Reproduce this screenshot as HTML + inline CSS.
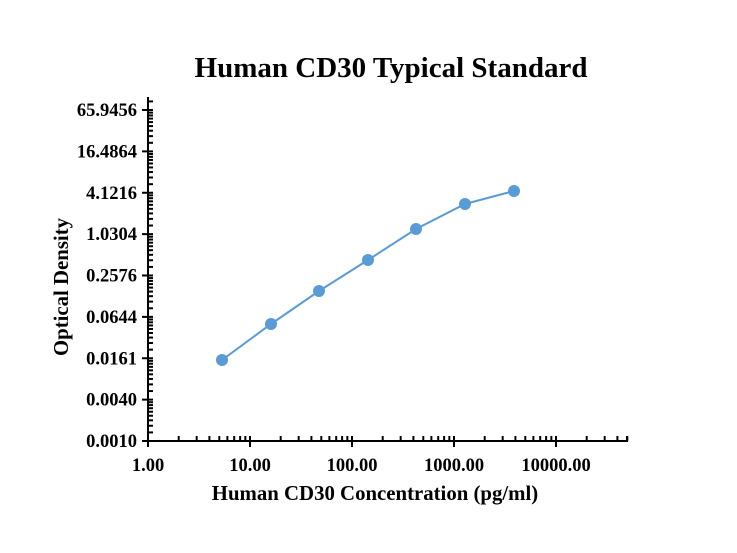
<!DOCTYPE html>
<html><head><meta charset="utf-8"><style>body{margin:0;background:#fff}svg{display:block}</style></head>
<body>
<svg id="s" width="737" height="553" xmlns="http://www.w3.org/2000/svg" font-family="Liberation Serif, serif" font-weight="bold">
<rect width="737" height="553" fill="#fff"/>
<text x="391" y="77" font-size="29" text-anchor="middle">Human CD30 Typical Standard</text>
<text x="375" y="500" font-size="20.8" text-anchor="middle">Human CD30 Concentration (pg/ml)</text>
<text transform="translate(68,287) rotate(-90)" font-size="20.8" text-anchor="middle">Optical Density</text>
<g id="ax" stroke="#000" stroke-width="2"></g>
<g id="lab" font-size="18.5"></g>
<polyline fill="none" stroke="#5b9bd5" stroke-width="2" points="222,360 271,324 319,291 368,260 416,229 465,204 514,191"/>
<g fill="#5b9bd5">
<circle cx="222" cy="360" r="6"/><circle cx="271" cy="324" r="6"/><circle cx="319" cy="291" r="6"/><circle cx="368" cy="260" r="6"/><circle cx="416" cy="229" r="6"/><circle cx="465" cy="204" r="6"/><circle cx="514" cy="191" r="6"/>
</g>
</svg>
<script>
var ax=document.getElementById('ax'),lab=document.getElementById('lab'),h='',t='';
function L(a,b,c,d){h+='<line x1="'+a+'" y1="'+b+'" x2="'+c+'" y2="'+d+'"/>';}
L(148,97,148,442);L(147,441,628,441);
var X0=148,D=102;
for(var k=0;k<5;k++){for(var m=1;m<10;m++){var x=X0+D*(k+Math.log10(m));if(x>628)break;
 if(m==1){L(x,436,x,447);}else L(x,436,x,441);}}
L(627,436,627,441);
var xl=['1.00','10.00','100.00','1000.00','10000.00'];
for(var k=0;k<5;k++)t+='<text x="'+(X0+D*k)+'" y="471" text-anchor="middle">'+xl[k]+'</text>';
var Y0=441,S=41.375;
var yl=['0.0010','0.0040','0.0161','0.0644','0.2576','1.0304','4.1216','16.4864','65.9456'];
for(var i=0;i<9;i++){var y=Y0-i*S;L(142,y,148,y);t+='<text x="137" y="'+(y+6)+'" text-anchor="end">'+yl[i]+'</text>';}
for(var i=0;i<9;i++)for(var k=1;k<10;k++){var y=Y0-(i+Math.log(1+3*k/9)/Math.log(4))*S;if(y<98)continue;L(148,y,153,y);}
ax.innerHTML=h;lab.innerHTML=t;
</script>
</body></html>
